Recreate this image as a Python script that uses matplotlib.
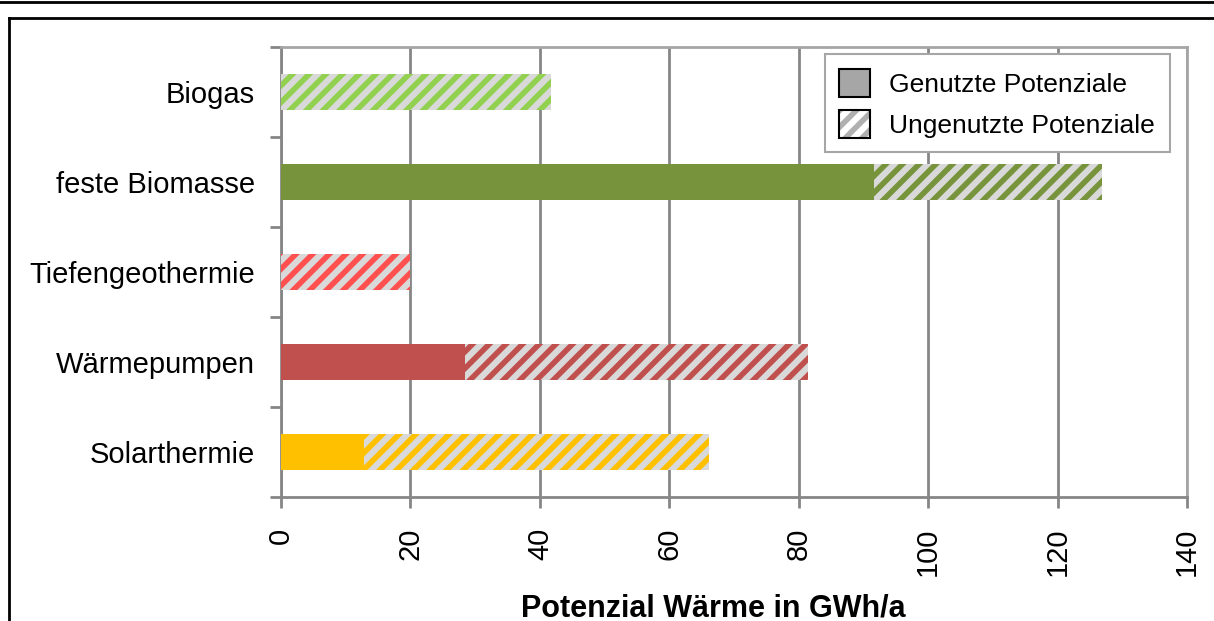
import matplotlib.pyplot as plt
from matplotlib.lines import Line2D
from matplotlib.patches import Patch

plt.rcParams['font.family'] = ['Liberation Sans', 'DejaVu Sans']
plt.rcParams['hatch.linewidth'] = 4

categories = ['Solarthermie', 'Wärmepumpen', 'Tiefengeothermie', 'feste Biomasse', 'Biogas']
genutzt = [12.8, 28.4, 0.0, 91.6, 0.0]
ungenutzt = [53.3, 53.0, 19.9, 35.3, 41.7]
colors = ['#ffc000', '#c0504d', '#ff5050', '#77933c', '#92d050']
xticks = [0, 20, 40, 60, 80, 100, 120, 140]

fig = plt.figure(figsize=(12.14, 6.21), dpi=100)
ax = fig.add_axes([0.2315, 0.1997, 0.7463, 0.7246])

ypos = list(range(len(categories)))
ax.barh(ypos, genutzt, height=0.39, color=colors, linewidth=0, zorder=3)
for y, g, u, c in zip(ypos, genutzt, ungenutzt, colors):
    ax.barh(y, u, left=g, height=0.39, color='#d9d9d9', edgecolor=c,
            hatch='//', linewidth=0, zorder=3)

ax.set_xlim(0, 140)
ax.set_ylim(-0.5, len(categories) - 0.5)
ax.set_xticks(xticks)
ax.set_xticklabels([str(t) for t in xticks], rotation=90, fontsize=21)
ax.set_yticks(ypos)
ax.set_yticklabels(categories, fontsize=21)
ax.set_yticks([i - 0.5 for i in range(len(categories) + 1)], minor=True)
ax.tick_params(axis='y', which='major', length=0, pad=19)
ax.tick_params(axis='y', which='minor', length=8, width=2, color='#868686')
ax.tick_params(axis='x', length=8, width=2, color='#868686', pad=14)
ax.grid(axis='x', color='#868686', linewidth=2, zorder=1)
for side in ['left', 'bottom']:
    ax.spines[side].set_color('#868686')
    ax.spines[side].set_linewidth(2)
for side in ['top', 'right']:
    ax.spines[side].set_color('#a6a6a6')
    ax.spines[side].set_linewidth(2)

ax.set_xlabel('Potenzial Wärme in GWh/a', fontsize=22, fontweight='bold')
ax.xaxis.set_label_coords(0.477, -0.214)

handles = [
    Patch(facecolor='#a6a6a6', edgecolor='black', linewidth=1.5),
    (Patch(facecolor='white', edgecolor='#b0b0b0', hatch='//', linewidth=0),
     Patch(facecolor='none', edgecolor='black', linewidth=1.5)),
]
leg = ax.legend(handles, ['Genutzte Potenziale', 'Ungenutzte Potenziale'],
                loc='upper left', bbox_to_anchor=(0.600, 0.984), fontsize=19,
                fancybox=False, framealpha=1, edgecolor='#a6a6a6',
                handlelength=1.15, handleheight=1.25, handletextpad=0.75,
                labelspacing=0.5, borderpad=0.55, borderaxespad=0)
leg.get_frame().set_linewidth(1.5)
leg.set_zorder(5)

# outer frame lines
fig.add_artist(Line2D([0, 1], [0.9968, 0.9968], transform=fig.transFigure,
                      color='black', linewidth=2))
fig.add_artist(Line2D([0.0078, 1], [0.971, 0.971], transform=fig.transFigure,
                      color='black', linewidth=2))
fig.add_artist(Line2D([0.0078, 0.0078], [0, 0.971], transform=fig.transFigure,
                      color='black', linewidth=2))

fig.savefig('out.png', dpi=100)
